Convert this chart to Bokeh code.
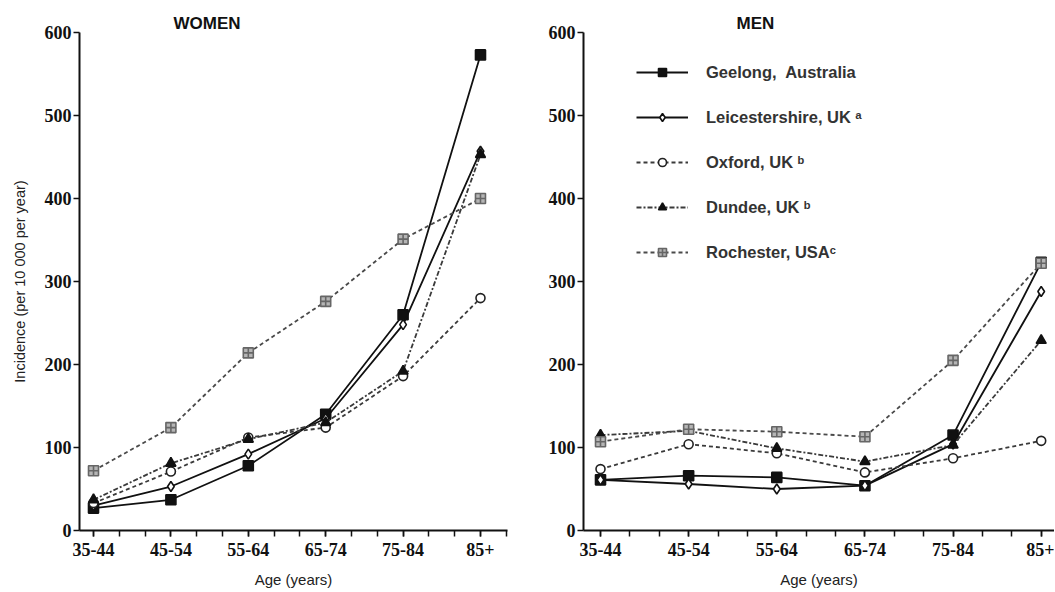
from bokeh.plotting import figure
from bokeh.layouts import row
from bokeh.models import Range1d, FixedTicker, Legend, LegendItem
from bokeh.embed import file_html
from bokeh.resources import INLINE

categories = ["35-44", "45-54", "55-64", "65-74", "75-84", "85+"]
y_ticks = [0, 100, 200, 300, 400, 500, 600]

series_names = ["Geelong,  Australia", "Leicestershire, UK \u1d43", "Oxford, UK \u1d47",
                "Dundee, UK \u1d47", "Rochester, USA\u1d9c"]

women_geelong = [27, 37, 78, 140, 260, 573]
women_leicestershire = [30, 53, 92, 135, 248, 457]
women_oxford = [33, 71, 112, 124, 186, 280]
women_dundee = [37, 81, 110, 130, 192, 453]
women_rochester = [72, 124, 214, 276, 351, 400]

men_geelong = [61, 66, 64, 54, 115, 323]
men_leicestershire = [61, 56, 50, 54, 104, 288]
men_oxford = [74, 104, 93, 70, 87, 108]
men_dundee = [115, 120, 99, 83, 103, 229]
men_rochester = [107, 122, 119, 113, 205, 322]

women = [women_geelong, women_leicestershire, women_oxford, women_dundee, women_rochester]
men = [men_geelong, men_leicestershire, men_oxford, men_dundee, men_rochester]

styles = [
    dict(line_color="#111111", dash="solid", marker="square", fill="#111111", mline="#111111", size=10),
    dict(line_color="#111111", dash="solid", marker="diamond", fill="white", mline="#111111", size=10),
    dict(line_color="#3a3a3a", dash="4 3", marker="circle", fill="white", mline="#222222", size=9),
    dict(line_color="#3a3a3a", dash="5 2 2 2", marker="triangle", fill="#111111", mline="#111111", size=10),
    dict(line_color="#4a4a4a", dash="4 3", marker="square_cross", fill="#b5b5b5", mline="#666666", size=10),
]

xs = list(range(len(categories)))
minor = [i / 3 for i in range(3 * len(categories))]


def make_panel(width, height, bl, br, bt, bb, xr, ylabel, title, title_offset):
    p = figure(width=width, height=height, x_range=Range1d(*xr), y_range=Range1d(0, 600),
               output_backend="svg", toolbar_location=None,
               min_border_left=bl, min_border_right=br, min_border_top=bt, min_border_bottom=bb)
    p.xgrid.visible = False
    p.ygrid.visible = False
    p.outline_line_color = None
    p.title.text = title
    p.title.align = "left"
    p.title.offset = title_offset
    p.title.standoff = 0
    p.title.text_font = "Liberation Sans"
    p.title.text_font_style = "bold"
    p.title.text_font_size = "17px"
    p.title.text_color = "#111111"
    for ax in (p.xaxis[0], p.yaxis[0]):
        ax.axis_line_color = "#111111"
        ax.axis_line_width = 2
        ax.major_tick_line_color = "#111111"
        ax.major_tick_line_width = 1.5
        ax.major_tick_out = 6
        ax.major_tick_in = 0
        ax.minor_tick_line_color = "#111111"
        ax.minor_tick_line_width = 1.5
        ax.minor_tick_out = 6
        ax.minor_tick_in = 0
        ax.major_label_text_font = "Liberation Serif"
        ax.major_label_text_font_style = "bold"
        ax.major_label_text_font_size = "18px"
        ax.major_label_text_color = "#111111"
        ax.axis_label_text_font = "Liberation Sans"
        ax.axis_label_text_font_style = "normal"
        ax.axis_label_text_color = "#222222"
    p.xaxis.ticker = FixedTicker(ticks=xs, minor_ticks=minor)
    p.xaxis.major_label_overrides = {i: c for i, c in enumerate(categories)}
    p.xaxis.major_label_standoff = 6
    p.xaxis.axis_label = "Age (years)"
    p.xaxis.axis_label_text_font_size = "15px"
    p.xaxis.axis_label_standoff = 12
    p.yaxis.ticker = FixedTicker(ticks=y_ticks, minor_ticks=[])
    p.yaxis.major_label_standoff = 2
    if ylabel:
        p.yaxis.axis_label = ylabel
        p.yaxis.axis_label_text_font_size = "14.5px"
        p.yaxis.axis_label_standoff = 14
    return p


def draw(p, data):
    items = []
    for name, vals, st in zip(series_names, data, styles):
        ln = p.line(xs, vals, line_color=st["line_color"], line_width=1.8, line_dash=st["dash"])
        sc = p.scatter(xs, vals, marker=st["marker"], size=st["size"], fill_color=st["fill"],
                       line_color=st["mline"], line_width=1.6)
        items.append(LegendItem(label=name, renderers=[ln, sc]))
    return items


H = 592
pw = make_panel(527, H, 79, 20, 32, H - 32 - 498, (-0.181, 5.349),
                "Incidence (per 10 000 per year)", "WOMEN", 94)
draw(pw, women)

pm = make_panel(527, H, 56, 0, 29, H - 29 - 504, (-0.193, 5.151), None, "MEN", 153)
items = draw(pm, men)

legend = Legend(items=items, location=(53, 268), glyph_width=52, glyph_height=20,
                label_height=20, spacing=25, padding=0, margin=0, label_standoff=18,
                border_line_color=None, background_fill_alpha=0,
                label_text_font="Liberation Sans", label_text_font_style="bold",
                label_text_font_size="16.5px", label_text_color="#333333")
pm.add_layout(legend, "center")

layout = row(pw, pm)
open("out.html", "w").write(file_html(layout, INLINE))
